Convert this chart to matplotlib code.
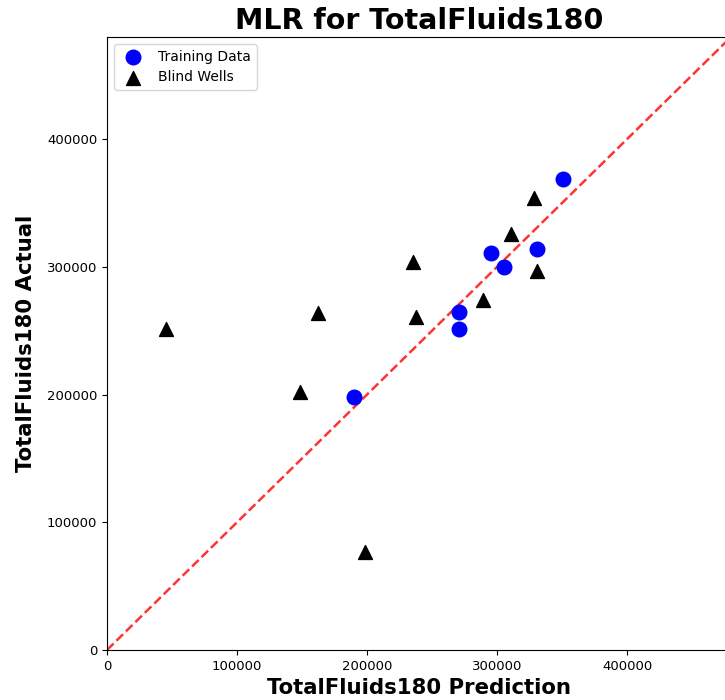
import numpy as np
import matplotlib
matplotlib.use("Agg")
import matplotlib.pyplot as plt

# ---------- DATA ----------
train_pred   = [190000, 270500, 270500, 295500, 305500, 331000, 351000]
train_actual = [198000, 265000, 251000, 310500, 300000, 314000, 368500]

blind_pred   = [45500, 148500, 162500, 198500, 235000, 237500, 289000, 311000, 328500, 331000]
blind_actual = [251000, 202000, 264000, 77000, 304000, 261000, 274000, 326000, 354000, 296500]

TARGET = "TotalFluids180"
LIM = 480000
# ---------------------------------------------------

fig = plt.figure(figsize=(7.25, 7.0), dpi=100)
ax = fig.add_axes([107/725, 50/700, 624/725, 613/700])

ax.scatter(train_pred, train_actual, s=110, c="blue", marker="o", label="Training Data", zorder=3)
ax.scatter(blind_pred, blind_actual, s=100, c="black", marker="^", label="Blind Wells", zorder=3)

# 1:1 reference line
ax.plot([0, LIM], [0, LIM], "r--", lw=1.8, alpha=0.8, zorder=2)

ax.set_xlim(0, LIM)
ax.set_ylim(0, LIM)
ax.set_xticks([0, 100000, 200000, 300000, 400000])
ax.set_yticks([0, 100000, 200000, 300000, 400000])
ax.tick_params(labelsize=9.5)

ax.set_xlabel(f"{TARGET} Prediction", fontsize=15.3, fontweight="bold", labelpad=4)
ax.set_ylabel(f"{TARGET} Actual", fontsize=15.3, fontweight="bold", labelpad=8)
ax.set_title(f"MLR for {TARGET}", fontsize=20.5, fontweight="bold", pad=6)
ax.legend(loc="upper left", fontsize=10)

fig.savefig("out.png", dpi=100)
